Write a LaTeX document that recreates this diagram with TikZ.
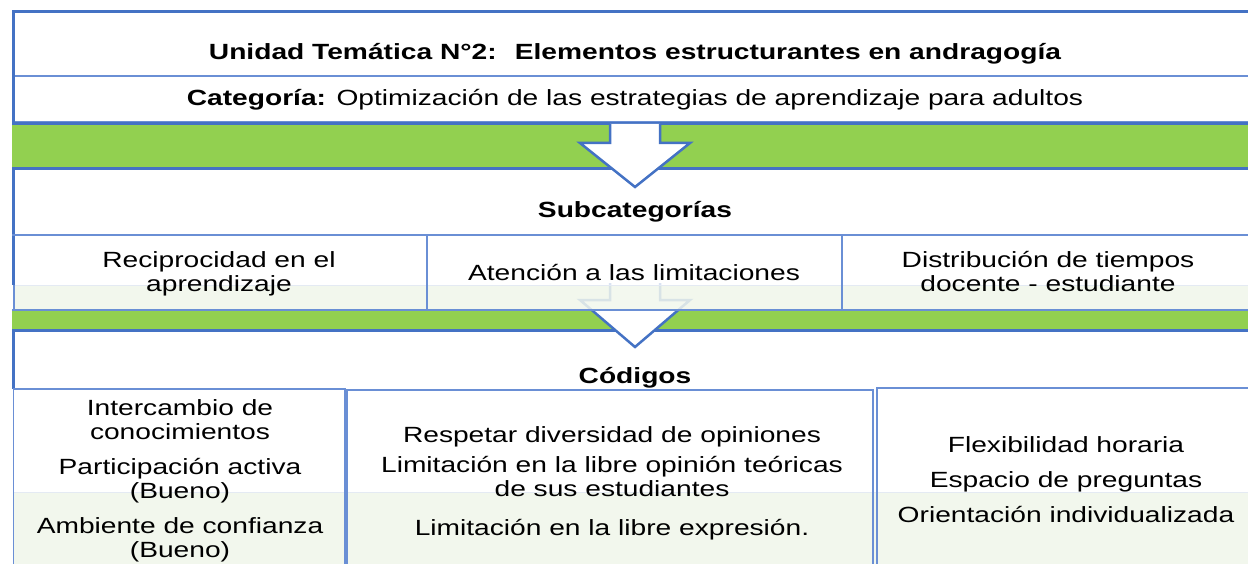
\documentclass[tikz,border=0pt]{standalone}
\usepackage{fontspec}
\setmainfont{Liberation Sans}[FakeStretch=1.28]

\definecolor{frameblue}{HTML}{4472C4}
\definecolor{cellblue}{HTML}{6A8FD5}
\definecolor{bargreen}{HTML}{92D050}
\definecolor{bandgreen}{HTML}{F2F7ED}
\definecolor{bandline}{HTML}{E4EAF3}

\begin{document}
\begin{tikzpicture}[x=1pt, y=-1pt]

\def\rightend{1262}

\useasboundingbox (0, 0) rectangle (1248, 564) ;
\clip (0, 0) rectangle (1248, 564) ;

\tikzstyle{frame line} = [line width=3pt, color=frameblue]
\tikzstyle{cell line} = [line width=1.6pt, color=cellblue]
\tikzstyle{band line} = [line width=1pt, color=bandline]
\tikzstyle{flow arrow} = [line width=2.5pt, draw=frameblue, fill=white, line join=miter]
\tikzstyle{cell text} = [align=center, inner sep=0pt, anchor=base, font=\fontsize{22}{24}\selectfont]
\tikzstyle{head text} = [cell text, font=\fontsize{22}{24}\selectfont\bfseries]

% unit and category

\draw [cell line] (12, 76) -- (\rightend, 76) ;
\draw [cell line] (12, 121.5) -- (\rightend, 121.5) ;
\draw [frame line] (\rightend, 12) -- (13, 12) -- (13, 124) -- (\rightend, 124) ;

\node [head text] (unidad) at (635, 60) {Unidad Temática N°2:~ Elementos estructurantes en andragogía} ;
\node [cell text] (categoria) at (635, 106) {\textbf{Categoría:} Optimización de las estrategias de aprendizaje para adultos} ;

% green bars

\fill [bargreen] (12, 125.5) rectangle (\rightend, 167.5) ;
\fill [bargreen] (12, 311) rectangle (\rightend, 328.5) ;
\draw [frame line] (12, 169) -- (\rightend, 169) ;
\draw [frame line] (12, 330) -- (\rightend, 330) ;

% subcategories

\fill [bandgreen] (14, 285) rectangle (\rightend, 309.5) ;

\draw [flow arrow] (610, 283) -- (610, 300) -- (580, 300) -- (635, 347) -- (690, 300) -- (660, 300) -- (660, 283) ;

% arrow fades behind the cells
\fill [white, opacity=.8] (15, 236) rectangle (\rightend, 285) ;
\fill [bandgreen, opacity=.85] (15, 285) rectangle (\rightend, 309.5) ;
\draw [band line] (14, 285) -- (\rightend, 285) ;

\draw [frame line] (13, 169) -- (13, 285) ;
\draw [cell line] (14, 285) -- (14, 310) ;
\draw [cell line] (12, 235) -- (\rightend, 235) ;
\draw [cell line] (12, 310) -- (\rightend, 310) ;
\foreach \xcell in {427, 842}
	\draw [cell line] (\xcell, 235) -- (\xcell, 310) ;

\draw [flow arrow] (610, 124) -- (610, 143) -- (580, 143) -- (635, 187) -- (690, 143) -- (660, 143) -- (660, 124) ;

\node [head text] (subcategorias) at (635, 218) {Subcategorías} ;
\node [cell text] (reciprocidad) at (219, 291) {Reciprocidad en el\\aprendizaje} ;
\node [cell text] (atencion) at (634, 280) {Atención a las limitaciones} ;
\node [cell text] (distribucion) at (1048, 291) {Distribución de tiempos\\docente - estudiante} ;

% codes

\fill [bandgreen] (14, 492) rectangle (\rightend, 570) ;
\draw [band line] (14, 492) -- (\rightend, 492) ;

\draw [frame line] (13, 330) -- (13, 389) ;
\draw [cell line] (13.5, 389) rectangle (345, 575) ;
\draw [cell line] (347, 390) rectangle (873, 575) ;
\draw [cell line] (877, 388) rectangle (\rightend, 575) ;

\node [head text] (codigos) at (635, 383) {Códigos} ;

\node [cell text] (intercambio) at (180, 439) {Intercambio de\\conocimientos} ;
\node [cell text] (participacion) at (180, 498) {Participación activa\\(Bueno)} ;
\node [cell text] (ambiente) at (180, 557) {Ambiente de confianza\\(Bueno)} ;

\node [cell text] (respetar) at (612, 442) {Respetar diversidad de opiniones} ;
\node [cell text] (opinion) at (612, 496) {Limitación en la libre opinión teóricas\\de sus estudiantes} ;
\node [cell text] (expresion) at (612, 535) {Limitación en la libre expresión.} ;

\foreach \codetext/\ycode [count=\i] in {Flexibilidad horaria/452, Espacio de preguntas/487, Orientación individualizada/522}
	\node [cell text] (flexible\i) at (1066, \ycode) {\codetext} ;

\end{tikzpicture}
\end{document}
